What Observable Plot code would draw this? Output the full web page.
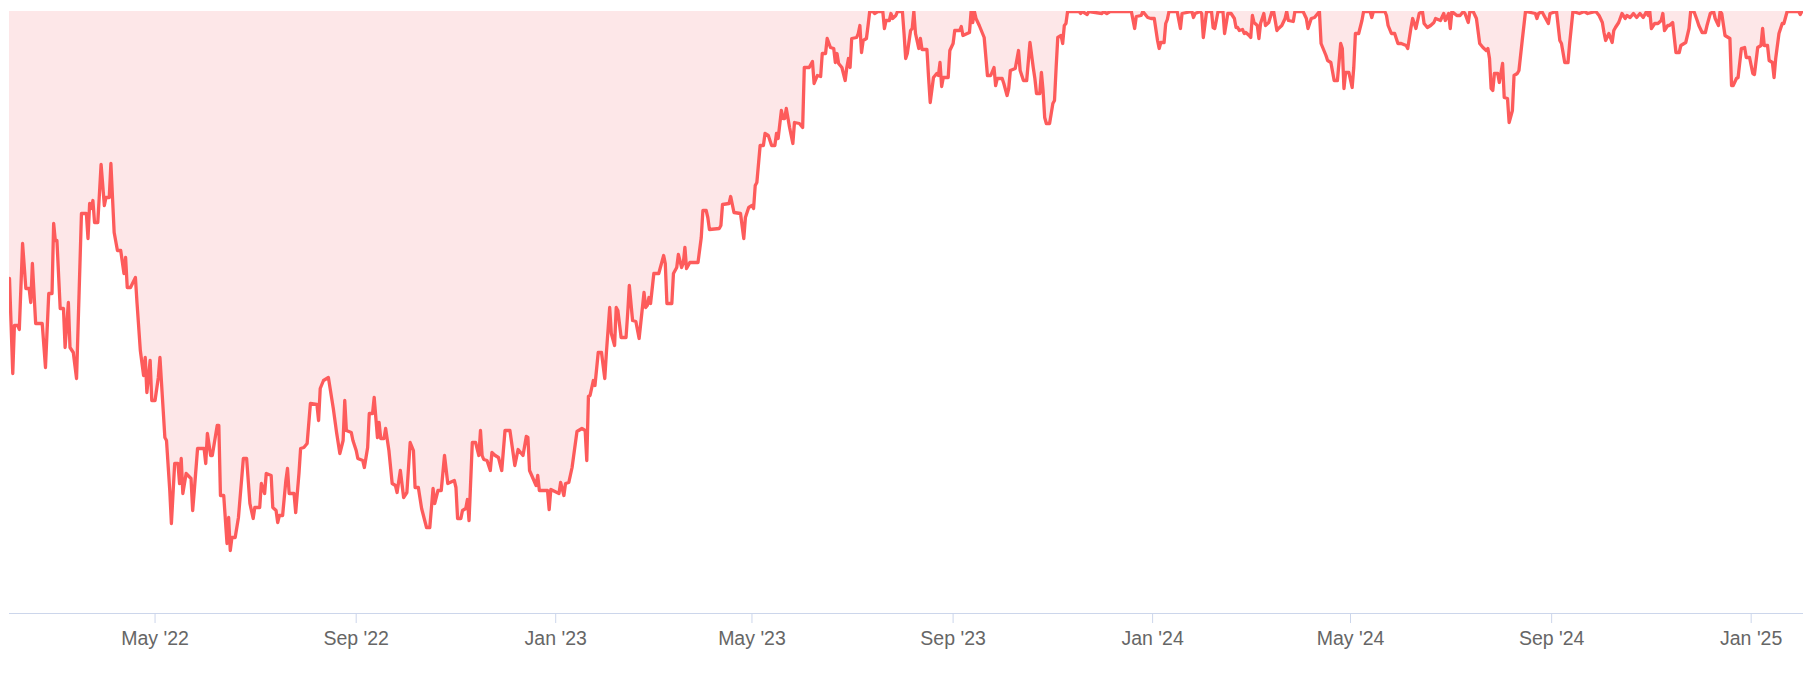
<!DOCTYPE html>
<html><head><meta charset="utf-8">
<script src="https://cdn.jsdelivr.net/npm/d3@7"></script>
<script src="https://cdn.jsdelivr.net/npm/@observablehq/plot@0.6"></script>
<style>body{margin:0;background:#fff}</style>
</head><body><div id="chart"></div>
<script>
const startDate = "2022-02-01";
const endDate = "2025-02-02";
// days since startDate
const dayOffsets = [
0,2,3,5,6,8,10,12,13,14,16,20,22,24,26,27,28,29,31,33,34,36,37,39,41,44,47,48,49,50,51,52,54,56,58,59,61,62,64,66,68,70,71,72,74,77,78,80,82,83,84,86,87,89,91,92,95,96,
98,99,101,103,104,105,106,108,111,112,113,115,119,120,121,123,124,127,128,129,131,133,134,135,136,138,140,143,145,147,149,150,153,154,156,157,160,161,163,164,165,167,169,170,171,174,175,177,178,180,182,184,188,189,190,192,195,198,200,202,204,205,206,209,210,212,213,216,217,219,220,222,223,225,226,227,229,230,232,234,236,237,239,241,243,245,247,248,250,252,255,257,259,260,262,264,266,268,272,273,274,276,277,279,280,281,283,285,287,288,289,290,292,294,295,297,299,301,303,
306,309,311,314,316,317,318,322,323,324,329,330,331,336,337,339,340,342,344,347,350,352,353,354,355,357,358,360,362,364,365,367,368,370,371,372,374,377,378,379,381,383,385,388,389,390,391,392,394,397,400,401,402,405,406,408,409,411,412,413,414,416,421,423,424,426,427,428,434,435,436,440,441,443,447,449,450,452,454,
455,456,457,459,461,462,464,466,468,469,470,472,473,474,475,477,479,480,483,485,486,489,491,492,494,496,497,499,500,502,504,505,506,507,509,511,512,513,514,515,518,519,520,521,522,524,525,526,528,529,531,534,535,536,538,539,540,542,543,546,547,548,549,551,552,553,554,556,557,558,561,562,563,565,567,568,569,570,571,574,575,577,578,581,582,583,587,588,589,590,591,593,595,596,598,600,602,603,604,607,608,610,611,612,615,617,618,620,622,624,626,627,628,630,631,632,633,634,636,638,639,640,641,643,644,645,646,647,654,655,656,659,660,668,669,671,673,686,688,689,692,693,696,698,
700,702,703,704,706,707,708,709,714,716,717,723,724,725,728,729,730,732,735,736,737,739,742,743,745,747,749,750,751,752,754,755,756,758,759,760,761,763,764,765,767,768,770,772,773,775,776,778,780,781,782,785,786,791,793,794,796,798,801,802,803,805,806,808,810,812,814,815,816,817,819,821,822,823,825,827,828,832,833,834,841,842,843,845,847,849,851,854,855,857,858,860,862,864,865,867,869,871,872,875,877,878,880,881,882,885,887,889,890,892,893,895,897,899,901,903,904,905,906,907,908,910,911,913,914,916,917,919,920,922,923,925,927,933,934,935,937,939,941,942,946,948,949,951,953,954,955,956,960,963,965,970,972,974,975,976,978,980,981,982,984,986,988,989,991,993,995,997,999,1001,1002,1003,1004,1006,1008,1010,1011,1012,1014,1015,1017,1019,1021,1022,1025,1027,1028,1030,1032,1033,1035,1037,1038,1040,1042,1043,1045,1046,1047,1049,1051,1052,1053,1054,1056,1057,1059,1061,1062,1064,1066,1067,1069,1071,1072,1073,1075,1076,1078,1079,1080,1082,1084,1085,1087,1094,1095,1096,1097
];
// percent below previous peak
const drawdown = [
-26.7,-36.2,-31.4,-31.4,-31.8,-23.2,-27.7,-27.7,-29.1,-25.2,-31.2,-31.2,-35.6,-28.2,-28.2,-21.2,-22.9,-22.9,-29.7,-29.7,-33.6,-29.1,-33.6,-34.1,-36.7,-20.2,-20.2,-22.7,-19.2,-19.7,-18.9,-21.1,-21.1,-15.3,-19.4,-18.6,-18.6,-15.2,-22.1,-23.9,-23.9,-26.2,-24.6,-27.6,-27.6,-26.6,-29.2,-33.9,-36.4,-34.6,-38.1,-34.9,-38.9,-38.9,-36.6,-34.6,-42.6,-42.9,
-47.9,-51.2,-45.2,-45.2,-47.2,-44.7,-48.2,-46.2,-46.7,-49.9,-47.9,-43.7,-43.7,-45.2,-42.2,-44.4,-44.4,-41.4,-41.4,-48.4,-48.4,-53.2,-50.6,-53.9,-52.6,-52.6,-50.6,-44.7,-44.7,-49.2,-50.7,-49.6,-49.6,-47.2,-48.2,-46.2,-46.4,-49.6,-49.9,-51.1,-50.4,-50.4,-46.9,-45.7,-48.2,-48.2,-50.1,-46.2,-43.7,-43.6,-43.2,-39.2,-39.3,-40.9,-37.7,-36.9,-36.6,-39.7,-42.1,-44.2,-42.9,-38.9,-41.9,-42.1,-42.9,-43.9,-44.7,-44.9,-45.6,-43.6,-40.2,-40.2,-38.6,-42.6,-41.1,-42.7,-42.7,-41.7,-43.9,-47.2,-47.4,-48.1,-45.9,-48.6,-48.1,-43.1,-43.9,-47.6,-47.6,-49.7,-51.6,-51.6,-47.7,-49.2,-47.9,-47.9,-44.4,-47.2,-46.9,-47.6,-50.7,-50.7,-49.9,-49.7,-48.8,-50.9,-43.1,-43.1,-44.4,-41.9,-44.4,-44.8,-44.9,-45.9,-44.1,-44.4,-44.6,-45.9,-41.9,
-41.9,-45.4,-43.8,-44.4,-42.5,-42.6,-45.9,-47.4,-46.4,-47.9,-47.9,-49.8,-47.8,-48.2,-47.1,-48.4,-47.2,-47.1,-45.6,-42.0,-41.7,-41.9,-44.9,-38.5,-38.4,-36.9,-37.4,-34.1,-34.1,-36.7,-34.1,-29.6,-32.2,-33.4,-29.6,-29.9,-32.6,-32.6,-30.2,-27.4,-30.9,-31.0,-32.7,-28.1,-29.6,-29.4,-28.6,-29.2,-26.2,-26.2,-24.4,-25.2,-29.2,-29.2,-26.2,-25.6,-24.3,-25.6,-25.2,-23.6,-25.7,-25.1,-25.1,-22.6,-19.9,-19.9,-20.6,-21.8,-21.7,-21.4,-19.3,-19.2,-18.5,-20.1,-20.2,-22.7,-20.6,-19.6,-19.4,
-19.7,-17.4,-17.1,-13.4,-13.4,-12.2,-12.4,-13.4,-13.4,-12.2,-12.7,-9.9,-10.7,-10.7,-9.7,-11.6,-13.2,-11.1,-11.2,-11.6,-5.6,-5.6,-5.0,-7.2,-6.4,-6.5,-4.2,-4.2,-2.7,-3.6,-3.7,-5.1,-4.2,-5.2,-5.6,-6.9,-5.6,-4.7,-5.6,-2.7,-2.6,-2.2,-1.4,-4.1,-2.9,-2.7,-1.4,0,0,-0.2,0,0,-1.7,-0.9,-0.9,-0.2,-0.7,-0.4,0,0,-2.2,-4.7,-4.2,-1.9,-1.7,0,-2.2,-3.7,-2.7,-3.8,-3.8,-6.6,-9.1,-6.6,-6.2,-6.4,-5.1,-7.5,-6.6,-6.6,-3.9,-3.2,-1.9,-1.9,-1.5,-2.4,-2.1,0,-1.1,0,-0.7,-1.4,-2.2,-2.6,-6.4,-6.4,-5.6,-7.4,-6.7,-6.7,-7.2,-8.4,-7.7,-5.9,-5.7,-3.9,-5.9,-6.9,-6.9,-3.1,-5.6,-6.7,-8.2,-8.2,-6.1,-7.9,-10.6,-11.2,-11.2,-9.2,-8.9,-5.6,-2.6,-2.4,-3.2,-1.4,-1.2,0,0,-0.2,0,-0.3,0,-0.2,0,-0.2,0,0,-1.7,-0.5,-0.4,0,-0.6,-0.7,
-0.7,-2.9,-3.7,-3.1,-3.1,-1.2,-0.8,0,0,-1.7,-0.2,0,-0.6,-0.2,0,-0.2,-2.6,0,0,-1.6,-1.7,0,0,-2.2,-0.2,-0.2,-0.7,-1.6,-1.6,-1.9,-1.8,-2.2,-2.1,-2.4,-2.6,-0.4,-1.1,-1.4,-2.7,-1.2,-0.2,-1.4,-1.1,0,0,-1.9,-1.7,-1.4,-0.7,0,-0.9,-1.0,0,0,-0.7,-1.7,-0.7,-0.6,0,-3.2,-3.6,-4.4,-4.9,-5.1,-6.9,-6.9,-3.2,-3.7,-7.7,-6.1,-6.1,-7.6,-5.6,-2.2,-2.2,-0.9,0,0,-0.6,0,0,-0.4,-1.4,-2.2,-2.2,-3.2,-3.2,-3.4,-3.7,-1.6,-0.7,-1.7,-0.2,0,-1.2,-1.6,-1.4,-1.1,-0.7,-0.9,-0.2,-0.9,-0.2,-1.7,0,-0.4,-0.4,0,-0.2,-1.1,0,0,-0.7,-3.2,-3.6,-3.9,-3.7,-4.7,-7.7,-7.9,-6.2,-6.2,-7.1,-5.2,-8.6,-8.7,-11.1,-9.9,-6.4,-6.2,-5.9,-2.9,0,-0.2,-0.7,-0.2,0,-0.6,-1.2,-0.2,0,-2.9,-3.2,-5.1,-5.1,-3.2,-1.6,0,-0.2,0,-0.2,0,-0.4,-1.1,-2.1,-2.9,-2.2,-3.1,-1.9,-1.6,-1.1,-0.2,-0.7,-0.4,-0.6,-0.2,-0.6,-0.2,-0.6,0,-0.4,0,-1.7,-1.2,-1.2,-0.9,-0.2,-1.9,-1.4,-1.4,-1.1,-4.1,-4.1,-3.4,-3.1,-1.7,0,0,-0.9,-1.4,-2.1,-2.1,-1.4,-0.2,0,-0.7,-1.4,0,-0.2,-2.4,-2.6,-2.7,-7.4,-7.4,-6.7,-6.6,-3.7,-3.6,-4.6,-4.6,-6.2,-6.3,-3.6,-3.4,-1.7,-3.4,-3.4,-4.9,-5.1,-6.6,-4.7,-2.2,-1.2,-1.2,0,0,-0.3,0,0
];
const tickDates = ["2022-05-01","2022-09-01","2023-01-01","2023-05-01","2023-09-01","2024-01-01","2024-05-01","2024-09-01","2025-01-01"];
const tickLabels = ["May '22","Sep '22","Jan '23","May '23","Sep '23","Jan '24","May '24","Sep '24","Jan '25"];
const yBottom = -60.2;

const start = new Date(startDate + "T00:00:00Z");
const n = Math.min(dayOffsets.length, drawdown.length);
const data = d3.range(n).map(i => ({date: d3.utcDay.offset(start, dayOffsets[i]), value: drawdown[i]}));
const ticks = tickDates.map(s => new Date(s + "T00:00:00Z"));
const labelOf = new Map(ticks.map((t, i) => [+t, tickLabels[i]]));

const chart = Plot.plot({
  width: 1816, height: 682,
  marginTop: 11, marginLeft: 9, marginRight: 13, marginBottom: 69,
  style: {fontFamily: "Liberation Sans, Arial, sans-serif", fontSize: "19.5px", background: "#fff"},
  x: {type: "utc", domain: [start, new Date(endDate + "T00:00:00Z")]},
  y: {domain: [yBottom, 0], axis: null},
  marks: [
    Plot.areaY(data, {x: "date", y: "value", fill: "#fde7e8"}),
    Plot.line(data, {x: "date", y: "value", stroke: "#fd5b5b", strokeWidth: 3.3, clip: true}),
    Plot.ruleY([yBottom], {stroke: "#ccd6eb", strokeWidth: 1}),
    Plot.axisX({ticks, tickFormat: d => labelOf.get(+d), tickSize: 10, tickPadding: 8,
      stroke: "#ccd6eb", fill: "#666", fontSize: 19.5, fontFamily: "Liberation Sans, Arial, sans-serif"})
  ]
});
document.getElementById("chart").appendChild(chart);
</script>
</body></html>
